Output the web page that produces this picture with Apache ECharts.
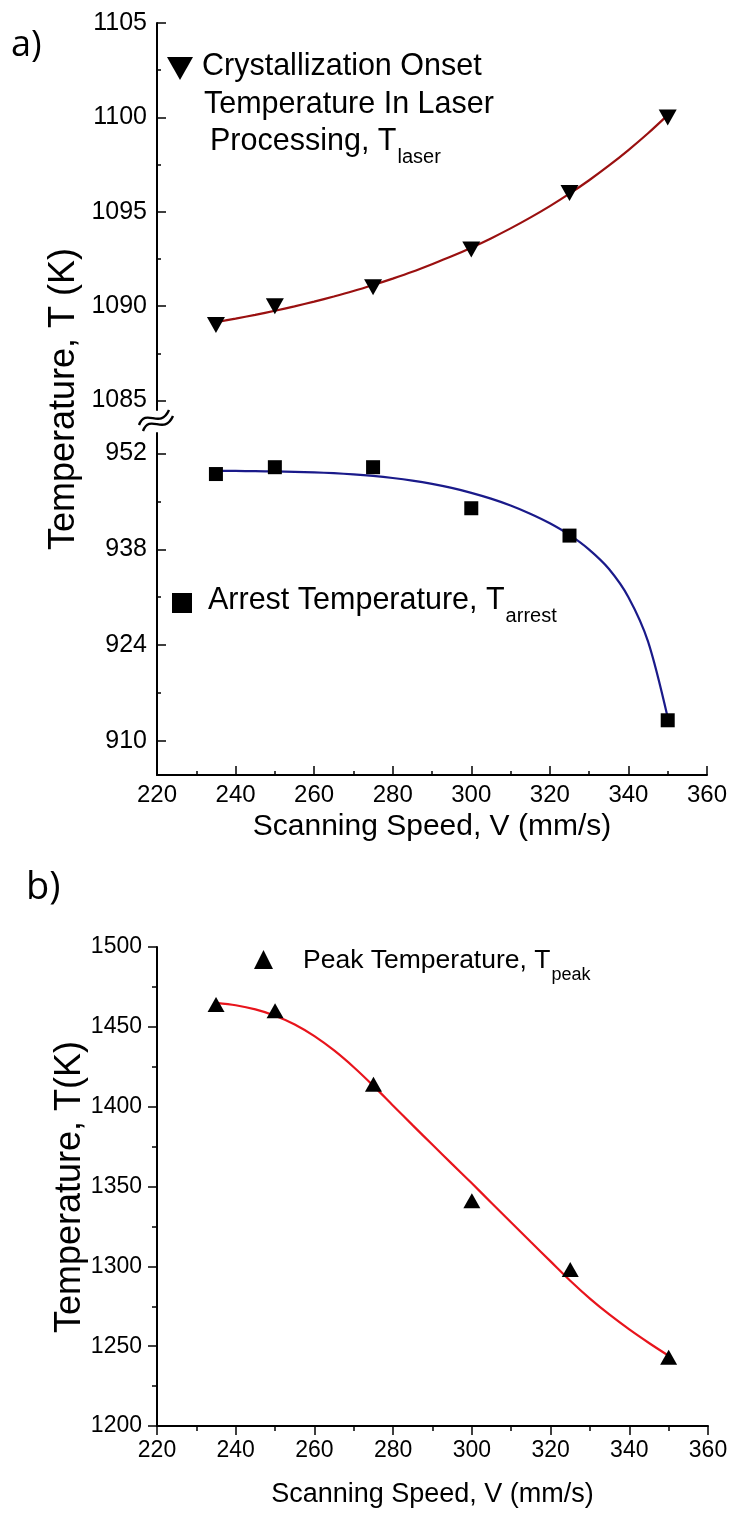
<!DOCTYPE html>
<html><head><meta charset="utf-8">
<script src="https://cdn.jsdelivr.net/npm/echarts@6/dist/echarts.min.js"></script>
<style>html,body{margin:0;padding:0;background:#fff}#c{width:733px;height:1515px}</style>
</head><body><div id="c"></div>
<script>
// ---- data ----
const speeds = [235, 250, 275, 300, 325, 350];
const tLaser = [1089, 1090, 1091, 1093, 1096, 1100];
const tArrest = [949, 950, 950, 944, 940, 913];
const tPeak = [1464, 1460, 1414, 1341, 1298, 1243];

// fitted curves, read every 5 mm/s along the drawn lines
const fitX = [235, 240, 245, 250, 255, 260, 265, 270, 275, 280, 285, 290, 295, 300, 305, 310, 315, 320, 325, 330, 335, 340, 345, 350];
const laserFitY = [1089.15, 1089.34, 1089.54, 1089.76, 1089.99, 1090.24, 1090.51, 1090.8, 1091.12, 1091.46, 1091.82, 1092.22, 1092.64, 1093.1, 1093.59, 1094.12, 1094.69, 1095.3, 1095.96, 1096.67, 1097.44, 1098.27, 1099.16, 1100.12];
const arrestFitY = [949.47, 949.45, 949.42, 949.38, 949.32, 949.24, 949.12, 948.95, 948.72, 948.42, 948.04, 947.56, 946.97, 946.25, 945.4, 944.4, 943.2, 941.8, 940.1, 937.95, 935.15, 931.0, 924.5, 913.4];
const peakFitY = [1465, 1463.5, 1460.9, 1457, 1451.5, 1444.2, 1435.2, 1424.7, 1413, 1400.6, 1388.3, 1376.1, 1364, 1352, 1339.7, 1327.4, 1315.2, 1303.1, 1291, 1279.8, 1269.7, 1260.5, 1252, 1244];

const upperTicks = [1085, 1090, 1095, 1100, 1105];
const upperMinor = [1087.5, 1092.5, 1097.5, 1102.5];
const lowerTicks = [910, 924, 938, 952];
const lowerMinor = [917, 931, 945];
const xMinorA = [230, 250, 270, 290, 310, 330, 350];

const xTitle = 'Scanning Speed, V (mm/s)';
const yTitleA = 'Temperature, T (K)';
const yTitleB = 'Temperature, T(K)';

// ---- helpers ----
const FONT = "'Liberation Sans', Arial, sans-serif";
const zip = (a, b) => a.map((v, i) => [v, b[i]]);
const cv = document.createElement('canvas').getContext('2d');
function tw(text, size) { cv.font = size + 'px ' + FONT; return cv.measureText(text).width; }
const plain = v => String(v);

const axisLine = { show: true, lineStyle: { color: '#000', width: 2 } };
const tickStyle = { color: '#000', width: 1.5 };
const lbl = (size, margin, extra) => Object.assign({ color: '#000', fontFamily: FONT, fontSize: size, margin: margin, formatter: plain }, extra || {});

function txt(x, y, text, size, extra) {
  return Object.assign({ type: 'text', x: x, y: y, style: { text: text, font: size + 'px ' + FONT, fill: '#000', textVerticalAlign: 'middle' } }, extra || {});
}
function legendLine(x, y, main, sub, size, subSize, subDy) {
  const w = tw(main, size);
  return [txt(x, y, main, size), txt(x + w + 1, y + subDy, sub, subSize)];
}
function vTitle(x, y, text, size) {
  return { type: 'text', x: x, y: y, rotation: Math.PI / 2, style: { text: text, font: size + 'px ' + FONT, fill: '#000', textAlign: 'center', textVerticalAlign: 'middle' } };
}

const graphics = [
  { type: 'text', x: 11, y: 46, style: { text: 'a)', font: "36px 'Open Sans', sans-serif", fill: '#000', textVerticalAlign: 'middle' } },
  { type: 'text', x: 26, y: 888, style: { text: 'b)', font: "38px 'Open Sans', sans-serif", fill: '#000', textVerticalAlign: 'middle' } },
  vTitle(64, 399, yTitleA, 36),
  vTitle(70, 1187, yTitleB, 36),
  // axis break symbol
  { type: 'bezierCurve', shape: { x1: 139, y1: 425, cpx1: 146, cpy1: 407, cpx2: 160, cpy2: 430, x2: 169, y2: 410 }, style: { stroke: '#000', lineWidth: 2.4, fill: null } },
  { type: 'bezierCurve', shape: { x1: 143, y1: 431, cpx1: 150, cpy1: 413, cpx2: 164, cpy2: 436, x2: 173, y2: 416 }, style: { stroke: '#000', lineWidth: 2.4, fill: null } },
  // legend markers
  { type: 'polygon', shape: { points: [[167, 57], [193, 57], [180, 80]] }, style: { fill: '#000' } },
  { type: 'rect', shape: { x: 172, y: 593, width: 20, height: 20 }, style: { fill: '#000' } },
  { type: 'polygon', shape: { points: [[254, 969], [273, 969], [263.5, 950]] }, style: { fill: '#000' } },
  txt(202, 67, 'Crystallization Onset', 30.5),
  txt(204, 105, 'Temperature In Laser', 30.5),
  ...legendLine(210, 142, 'Processing, T', 'laser', 30.5, 20, 15),
  ...legendLine(208, 601, 'Arrest Temperature, T', 'arrest', 30.5, 20, 15),
  ...legendLine(303, 961, 'Peak Temperature, T', 'peak', 26.5, 18, 14)
];

const option = {
  backgroundColor: '#fff',
  animation: false,
  grid: [
    { left: 157, width: 550, top: 23, height: 387 },
    { left: 157, width: 550, top: 433, height: 342 },
    { left: 157, width: 551, top: 947, height: 479 }
  ],
  xAxis: [
    { gridIndex: 0, type: 'value', min: 220, max: 360, show: false },
    { gridIndex: 1, type: 'value', position: 'bottom', min: 220, max: 360, interval: 20,
      axisLine: axisLine, splitLine: { show: false },
      axisTick: { inside: true, length: 9, lineStyle: tickStyle },
      axisLabel: lbl(24, 8),
      name: xTitle, nameLocation: 'middle', nameGap: 37,
      nameTextStyle: { color: '#000', fontFamily: FONT, fontSize: 30 } },
    { gridIndex: 1, type: 'value', position: 'bottom', offset: 0, min: 220, max: 360,
      axisLine: { show: false }, splitLine: { show: false }, axisLabel: { show: false },
      axisTick: { show: true, inside: true, length: 4, customValues: xMinorA, lineStyle: tickStyle } },
    { gridIndex: 2, type: 'value', position: 'bottom', min: 220, max: 360, interval: 20,
      axisLine: axisLine, splitLine: { show: false },
      axisTick: { inside: false, length: 9, lineStyle: tickStyle },
      minorTick: { show: true, splitNumber: 2, length: 5, lineStyle: tickStyle },
      axisLabel: lbl(23, 13),
      name: xTitle, nameLocation: 'middle', nameGap: 55,
      nameTextStyle: { color: '#000', fontFamily: FONT, fontSize: 27 } }
  ],
  yAxis: [
    { gridIndex: 0, type: 'value', position: 'left', min: 1084.5, max: 1105,
      axisLine: axisLine, splitLine: { show: false },
      axisTick: { inside: true, length: 9, customValues: upperTicks, lineStyle: tickStyle },
      axisLabel: lbl(25, 10, { customValues: upperTicks }) },
    { gridIndex: 0, type: 'value', position: 'left', offset: 0, min: 1084.5, max: 1105,
      axisLine: { show: false }, splitLine: { show: false }, axisLabel: { show: false },
      axisTick: { inside: true, length: 4, customValues: upperMinor, lineStyle: tickStyle } },
    { gridIndex: 1, type: 'value', position: 'left', min: 905, max: 955,
      axisLine: axisLine, splitLine: { show: false },
      axisTick: { inside: true, length: 9, customValues: lowerTicks, lineStyle: tickStyle },
      axisLabel: lbl(25, 10, { customValues: lowerTicks }) },
    { gridIndex: 1, type: 'value', position: 'left', offset: 0, min: 905, max: 955,
      axisLine: { show: false }, splitLine: { show: false }, axisLabel: { show: false },
      axisTick: { inside: true, length: 4, customValues: lowerMinor, lineStyle: tickStyle } },
    { gridIndex: 2, type: 'value', position: 'left', min: 1200, max: 1500, interval: 50,
      axisLine: axisLine, splitLine: { show: false },
      axisTick: { inside: false, length: 9, lineStyle: tickStyle },
      minorTick: { show: true, splitNumber: 2, length: 5, lineStyle: tickStyle },
      axisLabel: lbl(23, 15) }
  ],
  series: [
    { type: 'line', xAxisIndex: 0, yAxisIndex: 0, data: zip(fitX, laserFitY), smooth: 0.3, showSymbol: false,
      lineStyle: { color: '#9a1010', width: 2.2 }, z: 2 },
    { type: 'scatter', xAxisIndex: 0, yAxisIndex: 0, data: zip(speeds, tLaser), symbol: 'triangle', symbolRotate: 180,
      symbolSize: [18, 16], itemStyle: { color: '#000', opacity: 1 }, z: 3 },
    { type: 'line', xAxisIndex: 1, yAxisIndex: 2, data: zip(fitX, arrestFitY), smooth: 0.3, showSymbol: false,
      lineStyle: { color: '#1a1a8a', width: 2.2 }, z: 2 },
    { type: 'scatter', xAxisIndex: 1, yAxisIndex: 2, data: zip(speeds, tArrest), symbol: 'rect',
      symbolSize: 14, itemStyle: { color: '#000', opacity: 1 }, z: 3 },
    { type: 'line', xAxisIndex: 3, yAxisIndex: 4, data: zip(fitX, peakFitY), smooth: 0.3, showSymbol: false,
      lineStyle: { color: '#e8141c', width: 2.2 }, z: 2 },
    { type: 'scatter', xAxisIndex: 3, yAxisIndex: 4, data: zip(speeds, tPeak), symbol: 'triangle',
      symbolSize: [17, 15], itemStyle: { color: '#000', opacity: 1 }, z: 3 }
  ],
  graphic: graphics
};

const chart = echarts.init(document.getElementById('c'), null, { renderer: 'canvas' });
chart.setOption(option);
</script>
</body></html>
